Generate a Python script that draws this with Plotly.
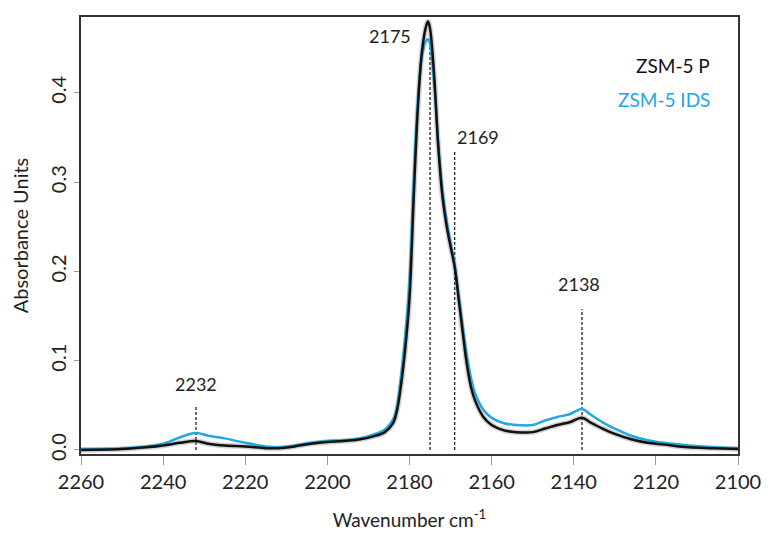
import plotly.graph_objects as go

# Wavenumber (cm-1)
wavenumber = [2260, 2250, 2244, 2240, 2236, 2232, 2229, 2225, 2220, 2215, 2212, 2208, 2204,
              2200, 2196, 2192, 2189, 2186, 2184, 2183, 2182, 2181, 2180, 2179, 2178, 2177,
              2176, 2175.5, 2175, 2174, 2173, 2172, 2171, 2170, 2169, 2168, 2167, 2166, 2165,
              2164, 2162, 2160, 2157, 2154, 2150, 2147, 2144, 2141, 2138, 2136, 2133, 2130,
              2126, 2122, 2118, 2112, 2106, 2100]

zsm5_p = [0.000, 0.001, 0.003, 0.005, 0.008, 0.010, 0.007, 0.005, 0.004, 0.002, 0.002, 0.004,
          0.007, 0.009, 0.010, 0.012, 0.015, 0.020, 0.030, 0.045, 0.075, 0.115, 0.170, 0.280,
          0.380, 0.445, 0.474, 0.480, 0.472, 0.420, 0.340, 0.285, 0.252, 0.228, 0.205, 0.168,
          0.130, 0.095, 0.070, 0.055, 0.037, 0.028, 0.022, 0.020, 0.020, 0.024, 0.028, 0.031,
          0.036, 0.031, 0.024, 0.018, 0.012, 0.008, 0.006, 0.003, 0.002, 0.001]

zsm5_ids = [0.001, 0.002, 0.004, 0.007, 0.014, 0.019, 0.016, 0.013, 0.008, 0.004, 0.003, 0.005,
            0.008, 0.010, 0.011, 0.013, 0.017, 0.023, 0.034, 0.050, 0.085, 0.130, 0.190, 0.300,
            0.390, 0.440, 0.458, 0.460, 0.455, 0.410, 0.345, 0.292, 0.258, 0.232, 0.208, 0.172,
            0.137, 0.105, 0.080, 0.063, 0.045, 0.036, 0.030, 0.028, 0.028, 0.033, 0.037, 0.040,
            0.046, 0.040, 0.031, 0.024, 0.016, 0.011, 0.008, 0.005, 0.003, 0.002]

# Peak markers
peak_positions = [2232, 2175, 2169, 2138]
peak_labels = ["2232", "2175", "2169", "2138"]
peak_line_tops = [0.050, 0.460, 0.335, 0.158]

x_ticks = [2260, 2240, 2220, 2200, 2180, 2160, 2140, 2120, 2100]
y_ticks = [0.0, 0.1, 0.2, 0.3, 0.4]

BLUE = "#20A8E0"
FONT = "Lato"

fig = go.Figure()

# dashed peak markers
for pos, top in zip(peak_positions, peak_line_tops):
    fig.add_trace(go.Scatter(x=[pos, pos], y=[0.0, top], mode="lines",
                             line=dict(color="#222", width=1.3, dash="3px,2px"),
                             showlegend=False, hoverinfo="skip"))

# soft gray shadow
fig.add_trace(go.Scatter(x=wavenumber, y=zsm5_p, mode="lines", line_shape="spline",
                         line=dict(color="rgba(110,110,110,0.3)", width=5.5),
                         showlegend=False, hoverinfo="skip"))
fig.add_trace(go.Scatter(x=wavenumber, y=zsm5_ids, mode="lines", name="ZSM-5 IDS",
                         line_shape="spline", line=dict(color=BLUE, width=2.5),
                         showlegend=False))
fig.add_trace(go.Scatter(x=wavenumber, y=zsm5_p, mode="lines", name="ZSM-5 P",
                         line_shape="spline", line=dict(color="#111", width=2.5),
                         showlegend=False))

# peak labels
label_cfg = {
    "2232": dict(xanchor="center", yanchor="bottom", xshift=0, yshift=8),
    "2175": dict(xanchor="right", yanchor="bottom", xshift=-17, yshift=-10),
    "2169": dict(xanchor="left", yanchor="bottom", xshift=0, yshift=1),
    "2138": dict(xanchor="center", yanchor="bottom", xshift=-3, yshift=12),
}
for pos, lab, top in zip(peak_positions, peak_labels, peak_line_tops):
    fig.add_annotation(x=pos, y=top, text=lab, showarrow=False,
                       font=dict(family=FONT, size=18, color="#222"), **label_cfg[lab])

# legend texts
fig.add_annotation(xref="paper", yref="paper", x=0.96, y=0.89, text="ZSM-5 P",
                   showarrow=False, xanchor="right", yanchor="middle",
                   font=dict(family=FONT, size=19, color="#111"))
fig.add_annotation(xref="paper", yref="paper", x=0.96, y=0.812, text="ZSM-5 IDS",
                   showarrow=False, xanchor="right", yanchor="middle",
                   font=dict(family=FONT, size=19, color=BLUE))

fig.update_layout(
    width=764, height=525,
    margin=dict(l=73, r=34, t=9, b=79),
    paper_bgcolor="white", plot_bgcolor="white",
    font=dict(family=FONT, size=18, color="#222"),
    xaxis=dict(range=[2260, 2100], tickvals=x_ticks, ticks="outside", ticklen=9,
               tickcolor="#999", tickwidth=1, showgrid=False, zeroline=False,
               showline=True, linecolor="#333", linewidth=2, mirror=True, automargin=False,
               tickfont=dict(family=FONT, size=20, color="#222"),
               title=dict(text="Wavenumber cm<sup>-1</sup>", standoff=22,
                          font=dict(family=FONT, size=19, color="#222"))),
    yaxis=dict(range=[-0.0045, 0.485], tickvals=y_ticks, tickformat=".1f", ticks="outside",
               ticklen=5, tickcolor="#999", tickwidth=1, showgrid=False, zeroline=False,
               showline=True, linecolor="#333", linewidth=2, mirror=True, tickangle=-90,
               automargin=False,
               tickfont=dict(family=FONT, size=20, color="#222"),
               title=dict(text="Absorbance Units", standoff=12,
                          font=dict(family=FONT, size=20, color="#222"))),
)

fig.write_html("out.html")
